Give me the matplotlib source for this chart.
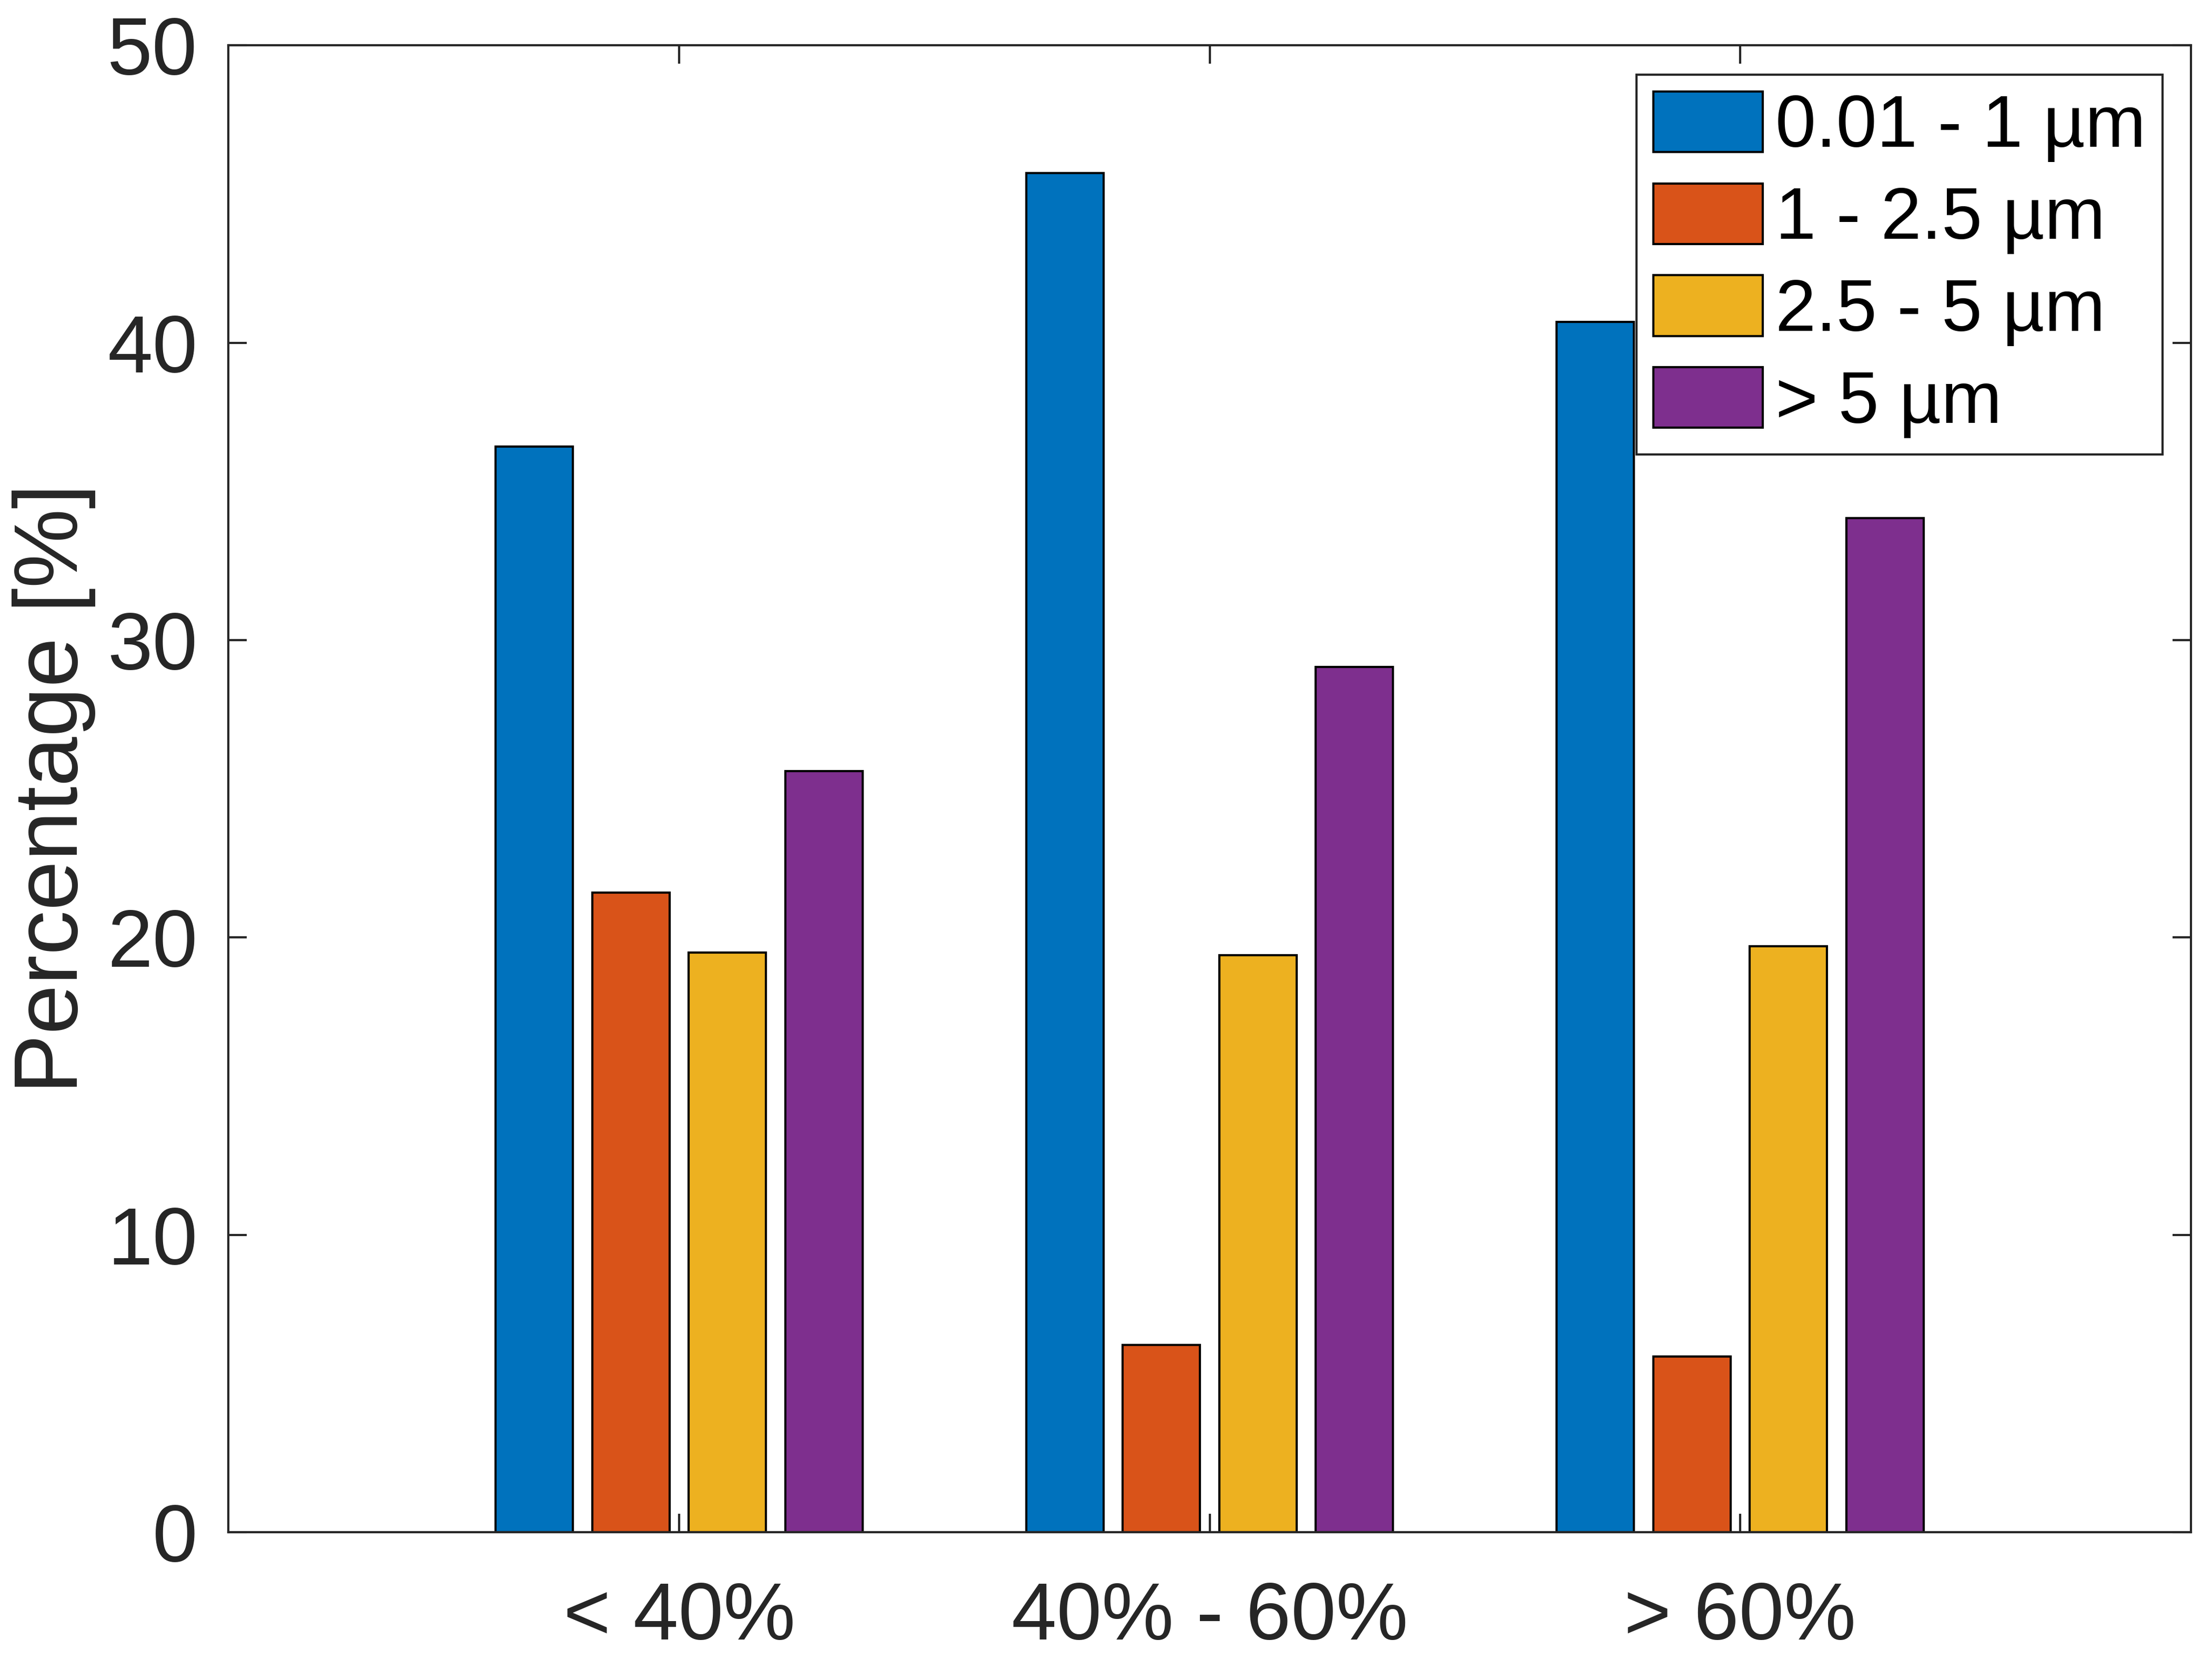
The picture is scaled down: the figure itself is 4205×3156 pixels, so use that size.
import matplotlib
matplotlib.use("Agg")
import matplotlib.pyplot as plt
import numpy as np

plt.rcParams['font.family'] = ['Liberation Sans', 'DejaVu Sans']

groups = ["< 40%", "40% - 60%", "> 60%"]
sizes = ["0.01 - 1 µm", "1 - 2.5 µm", "2.5 - 5 µm", "> 5 µm"]
colors = ["#0072BD", "#D95319", "#EDB120", "#7E2F8E"]

# percentage per size class, one list per size class (values over groups)
fine = [36.5, 45.7, 40.7]
mid = [21.5, 6.3, 5.9]
coarse = [19.5, 19.4, 19.7]
large = [25.6, 29.1, 34.1]
series = [fine, mid, coarse, large]

ink = "#262626"

fig = plt.figure(figsize=(4205 / 300, 3156 / 300), dpi=300)
ax = fig.add_axes([0.1032, 0.0770, 0.8873, 0.8957])

x = np.arange(1, len(groups) + 1)
step = 0.182
width = 0.146
for i, (vals, lab, col) in enumerate(zip(series, sizes, colors)):
    ax.bar(x + (i - 1.5) * step, vals, width, color=col, edgecolor="black",
           linewidth=1.0, label=lab, zorder=2)

ax.set_xlim(0.15, 3.85)
ax.set_ylim(0, 50)
ax.set_xticks(x)
ax.set_xticklabels(groups)
ax.set_yticks(range(0, 51, 10))
ax.tick_params(direction="in", length=8.5, width=1.0, color=ink,
               labelcolor=ink, labelsize=37, top=True, right=True, pad=14)
ax.tick_params(axis="x", pad=22)
for s in ax.spines.values():
    s.set_color(ink)
    s.set_linewidth(1.0)

ax.set_ylabel("Percentage [%]", fontsize=40.7, color=ink)
ax.yaxis.set_label_coords(-0.0675, 0.5)

leg = ax.legend(loc="upper right", bbox_to_anchor=(0.9855, 0.9802),
                borderaxespad=0, fontsize=33.3, fancybox=False,
                handlelength=1.5, handleheight=0.9, handletextpad=0.17,
                labelspacing=0.29, borderpad=0.23, framealpha=1)
leg.get_frame().set_edgecolor(ink)
leg.get_frame().set_linewidth(1.0)

fig.savefig("out.png", dpi=300)
